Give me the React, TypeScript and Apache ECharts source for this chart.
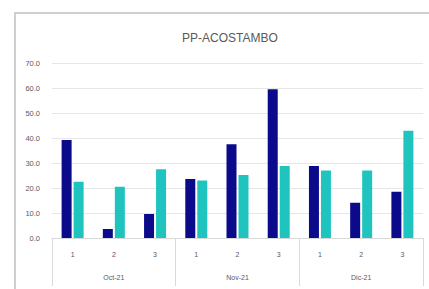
import React, { useEffect, useRef } from "react";
import * as echarts from "echarts";

const title = "PP-ACOSTAMBO";
const months = ["Oct-21", "Nov-21", "Dic-21"];
const weeks = ["1", "2", "3", "1", "2", "3", "1", "2", "3"];
const seriesA = [39.2, 3.6, 9.6, 23.6, 37.5, 59.5, 28.8, 14.1, 18.5];
const seriesB = [22.5, 20.5, 27.5, 23.0, 25.2, 28.8, 27.0, 27.0, 42.9];
const yTicks = { min: 0, max: 70, interval: 10 };

export default function App() {
  const ref = useRef<HTMLDivElement>(null);
  useEffect(() => {
    if (!ref.current) return;
    const chart = echarts.init(ref.current, null, { renderer: "svg" });
    chart.setOption({
      animation: false,
      backgroundColor: "#ffffff",
      title: {
        text: title,
        left: 225,
        top: 27,
        textAlign: "center",
        textStyle: {
          fontFamily: "Liberation Sans",
          fontSize: 12,
          fontWeight: "normal",
          color: "#595959",
        },
      },
      graphic: [
        {
          type: "rect",
          shape: { x: 15, y: 13, width: 440, height: 300 },
          style: { fill: "none", stroke: "#c0c0c0", lineWidth: 1.5 },
          silent: true,
          z: -1,
        },
      ],
      grid: { left: 52, right: 6, top: 63, bottom: 51, containLabel: false },
      xAxis: [
        {
          type: "category",
          data: weeks,
          position: "bottom",
          axisLine: { show: true, lineStyle: { color: "#d9d9d9" } },
          axisTick: { show: false },
          axisLabel: {
            interval: 0,
            margin: 13,
            fontSize: 7,
            color: "#595959",
            fontFamily: "Liberation Sans",
          },
          splitLine: { show: false },
        },
        {
          type: "category",
          data: months,
          position: "bottom",
          axisLine: { show: false },
          axisTick: {
            show: true,
            interval: 0,
            length: 48,
            lineStyle: { color: "#d9d9d9" },
          },
          axisLabel: {
            interval: 0,
            margin: 36,
            fontSize: 7,
            color: "#595959",
            fontFamily: "Liberation Sans",
          },
          splitLine: { show: false },
        },
      ],
      yAxis: {
        type: "value",
        min: yTicks.min,
        max: yTicks.max,
        interval: yTicks.interval,
        axisLine: { show: false },
        axisTick: { show: false },
        axisLabel: {
          formatter: (v: number) => v.toFixed(1),
          fontSize: 7.5,
          color: "#595959",
          margin: 12,
          fontFamily: "Liberation Sans",
        },
        splitLine: { lineStyle: { color: "#e6e6e6" } },
      },
      series: [
        {
          type: "bar",
          data: seriesA,
          xAxisIndex: 0,
          barWidth: 10,
          barGap: "20%",
          itemStyle: { color: "#0a0a8a" },
        },
        {
          type: "bar",
          data: seriesB,
          xAxisIndex: 0,
          barWidth: 10,
          barGap: "20%",
          itemStyle: { color: "#1fc4bf" },
        },
      ],
    });
    return () => chart.dispose();
  }, []);
  return <div ref={ref} style={{ width: 429, height: 289, position: "absolute", left: 0, top: 0 }} />;
}
